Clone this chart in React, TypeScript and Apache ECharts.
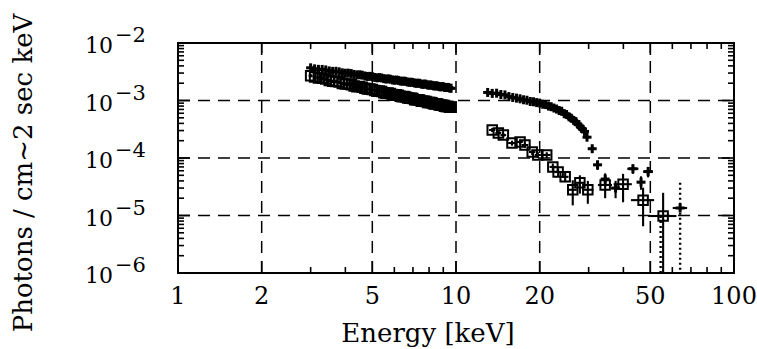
import React, { useEffect, useRef } from 'react';
import * as echarts from 'echarts';

// ---------- axis / tick data ----------
const xTickLabels = [1, 2, 5, 10, 20, 50, 100];
const yTickExponents = [-2, -3, -4, -5, -6];
const xMajorTicks = [2, 5, 10, 20, 50];
const xMinorTicks = [3, 4, 6, 7, 8, 9, 30, 40, 60, 70, 80, 90];
const yMajorTicks = [1e-5, 1e-4, 1e-3];
const yMinorTicks = [
  2e-6, 3e-6, 4e-6, 5e-6, 6e-6, 7e-6, 8e-6, 9e-6,
  2e-5, 3e-5, 4e-5, 5e-5, 6e-5, 7e-5, 8e-5, 9e-5,
  2e-4, 3e-4, 4e-4, 5e-4, 6e-4, 7e-4, 8e-4, 9e-4,
  2e-3, 3e-3, 4e-3, 5e-3, 6e-3, 7e-3, 8e-3, 9e-3,
];
const xGridValues = [2, 5, 10, 20, 50];
const yGridValues = [1e-3, 1e-4, 1e-5];

// ---------- low-energy channels (keV), shared by both spectra ----------
const lowE = [
  3.0, 3.1, 3.2, 3.3, 3.4, 3.5, 3.6, 3.7, 3.8, 3.9,
  4.0, 4.1, 4.2, 4.3, 4.4, 4.5, 4.6, 4.7, 4.8, 4.9,
  5.0, 5.1, 5.2, 5.3, 5.4, 5.5, 5.6, 5.7, 5.8, 5.9,
  6.0, 6.1, 6.2, 6.3, 6.4, 6.5, 6.6, 6.7, 6.8, 6.9,
  7.0, 7.1, 7.2, 7.3, 7.4, 7.5, 7.6, 7.7, 7.8, 7.9,
  8.0, 8.1, 8.2, 8.3, 8.4, 8.5, 8.6, 8.7, 8.8, 8.9,
  9.0, 9.1, 9.2, 9.3, 9.4, 9.5, 9.6,
];
const lowHalfBin = 0.05;

// ---------- crosses (flux in 1e-3 units for dense bands) ----------
const crossLowF = [
  3.70, 3.55, 3.48, 3.47, 3.40, 3.27, 3.21, 3.22, 3.15, 3.03,
  2.98, 2.99, 2.94, 2.84, 2.79, 2.80, 2.76, 2.67, 2.62, 2.63,
  2.60, 2.52, 2.48, 2.50, 2.47, 2.40, 2.36, 2.38, 2.35, 2.28,
  2.25, 2.27, 2.24, 2.18, 2.16, 2.17, 2.15, 2.09, 2.07, 2.08,
  2.06, 2.01, 1.99, 2.00, 1.99, 1.93, 1.91, 1.93, 1.92, 1.86,
  1.85, 1.86, 1.84, 1.80, 1.79, 1.80, 1.78, 1.74, 1.73, 1.74,
  1.74, 1.69, 1.68, 1.69, 1.68, 1.64, 1.63,
];
const crossLowErr = [
  0.36, 0.35, 0.34, 0.34, 0.33, 0.32, 0.31, 0.31, 0.30, 0.29,
  0.29, 0.29, 0.28, 0.27, 0.27, 0.27, 0.26, 0.26, 0.25, 0.25,
  0.25, 0.24, 0.24, 0.24, 0.23, 0.23, 0.22, 0.22, 0.22, 0.22,
  0.21, 0.21, 0.21, 0.21, 0.20, 0.20, 0.20, 0.20, 0.19, 0.19,
  0.19, 0.19, 0.19, 0.19, 0.18, 0.18, 0.18, 0.18, 0.18, 0.18,
  0.17, 0.17, 0.17, 0.17, 0.17, 0.17, 0.16, 0.16, 0.16, 0.16,
  0.16, 0.16, 0.16, 0.16, 0.15, 0.15, 0.15,
];

const crossHighE = [13.0, 13.5, 14.0, 14.5, 15.0, 15.5, 16.0, 16.5, 17.0, 17.5, 18.0, 18.5, 19.0, 19.5, 20.0, 20.5, 21.0, 21.5, 22.0, 22.5, 23.0, 23.5, 24.0, 24.5, 25.0, 25.5, 26.0, 26.5, 27.0, 27.5, 28.0, 28.5, 29.0];
const crossHighF = [1.38, 1.33, 1.34, 1.27, 1.25, 1.17, 1.13, 1.10, 1.07, 1.03, 1.01, 0.96, 0.95, 0.92, 0.90, 0.86, 0.85, 0.80, 0.78, 0.74, 0.71, 0.67, 0.65, 0.59, 0.57, 0.52, 0.49, 0.45, 0.43, 0.38, 0.35, 0.32, 0.29];
const crossHighErr = [0.14, 0.13, 0.13, 0.13, 0.12, 0.12, 0.11, 0.11, 0.11, 0.10, 0.10, 0.10, 0.10, 0.09, 0.09, 0.09, 0.09, 0.08, 0.08, 0.07, 0.07, 0.07, 0.07, 0.06, 0.06, 0.05, 0.05, 0.05, 0.04, 0.04, 0.04, 0.035, 0.03];
const crossHighHalfBin = 0.25;

const crossTailE = [29.6, 30.9, 32.3, 34.4, 37.5, 43.3, 46.3, 49.1, 64.0];
const crossTailF = [2.3e-4, 1.45e-4, 7.6e-5, 4.3e-5, 3.0e-5, 6.5e-5, 3.8e-5, 5.8e-5, 1.35e-5];
const crossTailDE = [0.5, 0.6, 0.8, 1.0, 1.2, 2.0, 1.5, 2.0, 3.8];
const crossTailDF = [2.5e-5, 2.0e-5, 1.4e-5, 1.1e-5, 1.0e-5, 1.2e-5, 1.0e-5, 1.2e-5, 2.35e-5];

// ---------- squares ----------
const squareLowF = [
  2.70, 2.55, 2.47, 2.44, 2.36, 2.22, 2.16, 2.15, 2.09, 1.98,
  1.93, 1.93, 1.88, 1.79, 1.74, 1.75, 1.70, 1.63, 1.58, 1.59,
  1.56, 1.49, 1.45, 1.46, 1.44, 1.37, 1.34, 1.35, 1.33, 1.27,
  1.24, 1.26, 1.23, 1.18, 1.16, 1.17, 1.15, 1.10, 1.09, 1.09,
  1.08, 1.03, 1.03, 1.03, 1.02, 0.97, 0.97, 0.975, 0.96, 0.925,
  0.92, 0.92, 0.91, 0.875, 0.87, 0.875, 0.865, 0.835, 0.83, 0.83,
  0.82, 0.795, 0.79, 0.79, 0.785, 0.76, 0.76,
];
const squareLowErr = [
  0.19, 0.18, 0.17, 0.17, 0.17, 0.16, 0.15, 0.15, 0.15, 0.14,
  0.14, 0.14, 0.13, 0.13, 0.12, 0.12, 0.12, 0.11, 0.11, 0.11,
  0.11, 0.10, 0.10, 0.10, 0.10, 0.10, 0.09, 0.09, 0.09, 0.09,
  0.09, 0.09, 0.09, 0.08, 0.08, 0.08, 0.08, 0.08, 0.08, 0.08,
  0.075, 0.075, 0.075, 0.075, 0.075, 0.075, 0.075, 0.075, 0.075, 0.075,
  0.065, 0.065, 0.065, 0.065, 0.065, 0.065, 0.065, 0.065, 0.065, 0.065,
  0.055, 0.055, 0.055, 0.055, 0.055, 0.055, 0.055,
];

const squareHighE = [13.5, 14.2, 14.8, 15.9, 17.0, 17.7, 18.8, 19.7, 21.2, 22.3, 23.3, 24.7, 26.3, 27.9, 29.8, 34.4, 39.9, 47.1, 55.6];
const squareHighF = [3.07e-4, 2.72e-4, 2.5e-4, 1.82e-4, 1.9e-4, 1.68e-4, 1.27e-4, 1.13e-4, 1.13e-4, 7.0e-5, 5.7e-5, 4.7e-5, 2.8e-5, 3.7e-5, 2.8e-5, 3.4e-5, 3.5e-5, 1.85e-5, 9.8e-6];
const squareHighDE = [0.35, 0.35, 0.35, 0.5, 0.4, 0.5, 0.5, 0.5, 0.7, 0.6, 0.6, 0.7, 0.9, 1.0, 1.4, 2.0, 3.0, 4.5, 6.5];
const squareHighDF = [2.5e-5, 2.3e-5, 2.2e-5, 1.8e-5, 1.8e-5, 1.7e-5, 1.4e-5, 1.3e-5, 1.3e-5, 1.0e-5, 9e-6, 9e-6, 1.3e-5, 1.3e-5, 1.2e-5, 1.4e-5, 1.8e-5, 1.2e-5, 1.5e-5];

const X_MIN = 1, X_MAX = 100, Y_MIN = 1e-6, Y_MAX = 1e-2;
const FONT = '"DejaVu Serif", serif';

function buildData(): { crosses: number[][]; squares: number[][] } {
  const crosses: number[][] = [];
  lowE.forEach((e, i) => crosses.push([e, crossLowF[i] * 1e-3, lowHalfBin, crossLowErr[i] * 1e-3]));
  crossHighE.forEach((e, i) => crosses.push([e, crossHighF[i] * 1e-3, crossHighHalfBin, crossHighErr[i] * 1e-3]));
  crossTailE.forEach((e, i) => crosses.push([e, crossTailF[i], crossTailDE[i], crossTailDF[i]]));
  const squares: number[][] = [];
  lowE.forEach((e, i) => squares.push([e, squareLowF[i] * 1e-3, lowHalfBin, squareLowErr[i] * 1e-3]));
  squareHighE.forEach((e, i) => squares.push([e, squareHighF[i], squareHighDE[i], squareHighDF[i]]));
  return { crosses, squares };
}

function errorRender(kind: 'cross' | 'square') {
  return (_params: any, api: any) => {
    const e = api.value(0), f = api.value(1), de = api.value(2), df = api.value(3);
    const c = api.coord([e, f]);
    const cx = c[0], cy = c[1];
    const xl = api.coord([e - de, f])[0];
    const xr = api.coord([e + de, f])[0];
    const yTop = api.coord([e, f + df])[1];
    const yBot = api.coord([e, Y_MIN])[1];
    const limit = f - df <= Y_MIN;
    const yLow = limit ? yBot : api.coord([e, f - df])[1];
    const solid = { stroke: '#000', lineWidth: 2.1, fill: 'none' };
    const dotted = { stroke: '#000', lineWidth: 2.4, lineDash: [2, 3], fill: 'none' };
    const children: any[] = [
      { type: 'line', shape: { x1: xl, y1: cy, x2: xr, y2: cy }, style: solid },
    ];
    if (!limit) {
      children.push({ type: 'line', shape: { x1: cx, y1: yTop, x2: cx, y2: yLow }, style: solid });
    } else if (kind === 'cross') {
      children.push({ type: 'line', shape: { x1: cx, y1: yTop, x2: cx, y2: yBot }, style: dotted });
    } else {
      children.push({ type: 'line', shape: { x1: cx, y1: yTop, x2: cx, y2: yBot }, style: solid });
      children.push({ type: 'line', shape: { x1: cx - 2.5, y1: cy, x2: cx - 2.5, y2: yBot }, style: dotted });
    }
    if (kind === 'cross') {
      const arm = 4.5;
      children.push({ type: 'line', shape: { x1: cx - arm, y1: cy, x2: cx + arm, y2: cy }, style: { stroke: '#000', lineWidth: 3 } });
      children.push({ type: 'line', shape: { x1: cx, y1: cy - arm, x2: cx, y2: cy + arm }, style: { stroke: '#000', lineWidth: 3 } });
    } else {
      const h = 4.75;
      children.push({ type: 'rect', shape: { x: cx - h, y: cy - h, width: 2 * h, height: 2 * h }, style: { stroke: '#000', lineWidth: 2, fill: 'none' } });
    }
    return { type: 'group', children };
  };
}

export default function App() {
  const ref = useRef<HTMLDivElement>(null);
  useEffect(() => {
    if (!ref.current) return;
    const chart = echarts.init(ref.current, undefined, { renderer: 'svg' });
    const { crosses, squares } = buildData();

    const lineStyle = { stroke: '#000', lineWidth: 1.6 };

    const option: any = {
      animation: false,
      backgroundColor: '#fff',
      grid: {
        left: 178, top: 43, width: 556, height: 230,
        show: true, borderColor: '#000', borderWidth: 2, backgroundColor: 'transparent',
      },
      xAxis: {
        type: 'log', logBase: 10, min: X_MIN, max: X_MAX,
        axisLine: { show: false }, axisTick: { show: false }, axisLabel: { show: false }, splitLine: { show: false },
      },
      yAxis: {
        type: 'log', logBase: 10, min: Y_MIN, max: Y_MAX,
        axisLine: { show: false }, axisTick: { show: false }, axisLabel: { show: false }, splitLine: { show: false },
      },
      graphic: [
        {
          type: 'text', x: 23, y: 173, rotation: Math.PI / 2,
          style: {
            text: 'Photons / cm~2 sec keV', font: `26px ${FONT}`, fill: '#000',
            align: 'center', verticalAlign: 'middle', textAlign: 'center', textVerticalAlign: 'middle',
          },
        },
        {
          type: 'text', x: 428, y: 333,
          style: {
            text: 'Energy [keV]', font: `26px ${FONT}`, fill: '#000',
            align: 'center', verticalAlign: 'middle', textAlign: 'center', textVerticalAlign: 'middle',
          },
        },
      ],
      series: [
        {
          type: 'custom', silent: true, z: 1,
          data: xGridValues.map((v) => [v, Y_MIN]),
          renderItem: (_p: any, api: any) => {
            const x = api.coord([api.value(0), Y_MIN])[0];
            const yb = api.coord([X_MIN, Y_MIN])[1];
            const yt = api.coord([X_MIN, Y_MAX])[1];
            return { type: 'line', shape: { x1: x, y1: yb, x2: x, y2: yt }, style: { stroke: '#000', lineWidth: 1.5, lineDash: [12, 8] } };
          },
        },
        {
          type: 'custom', silent: true, z: 1,
          data: yGridValues.map((v) => [X_MIN, v]),
          renderItem: (_p: any, api: any) => {
            const y = api.coord([X_MIN, api.value(1)])[1];
            const xl = api.coord([X_MIN, Y_MIN])[0];
            const xr = api.coord([X_MAX, Y_MIN])[0];
            return { type: 'line', shape: { x1: xl, y1: y, x2: xr, y2: y }, style: { stroke: '#000', lineWidth: 1.5, lineDash: [12, 8] } };
          },
        },
        {
          type: 'custom', silent: true, z: 3,
          data: [...xMajorTicks.map((v) => [v, Y_MIN, 12]), ...xMinorTicks.map((v) => [v, Y_MIN, 6])],
          renderItem: (_p: any, api: any) => {
            const x = api.coord([api.value(0), Y_MIN])[0];
            const len = api.value(2);
            const yb = api.coord([X_MIN, Y_MIN])[1];
            const yt = api.coord([X_MIN, Y_MAX])[1];
            return {
              type: 'group', children: [
                { type: 'line', shape: { x1: x, y1: yb, x2: x, y2: yb - len }, style: lineStyle },
                { type: 'line', shape: { x1: x, y1: yt, x2: x, y2: yt + len }, style: lineStyle },
              ],
            };
          },
        },
        {
          type: 'custom', silent: true, z: 3,
          data: [...yMajorTicks.map((v) => [X_MIN, v, 12]), ...yMinorTicks.map((v) => [X_MIN, v, 6])],
          renderItem: (_p: any, api: any) => {
            const y = api.coord([X_MIN, api.value(1)])[1];
            const len = api.value(2);
            const xl = api.coord([X_MIN, Y_MIN])[0];
            const xr = api.coord([X_MAX, Y_MIN])[0];
            return {
              type: 'group', children: [
                { type: 'line', shape: { x1: xl, y1: y, x2: xl + len, y2: y }, style: lineStyle },
                { type: 'line', shape: { x1: xr, y1: y, x2: xr - len, y2: y }, style: lineStyle },
              ],
            };
          },
        },
        {
          type: 'custom', silent: true, z: 3,
          data: xTickLabels.map((v) => [v, Y_MIN]),
          renderItem: (_p: any, api: any) => {
            const v = api.value(0);
            const p = api.coord([v, Y_MIN]);
            return {
              type: 'text', x: p[0], y: p[1] + 23,
              style: { text: String(v), font: `24px ${FONT}`, fill: '#000', align: 'center', verticalAlign: 'middle' },
            };
          },
        },
        {
          type: 'custom', silent: true, z: 3,
          data: yTickExponents.map((n) => [X_MIN, Math.pow(10, n), n]),
          renderItem: (_p: any, api: any) => {
            const n = api.value(2);
            const p = api.coord([X_MIN, api.value(1)]);
            return {
              type: 'group', children: [
                { type: 'text', x: p[0] - 93, y: p[1] + 2.5, style: { text: '10', font: `22px ${FONT}`, fill: '#000', align: 'left', verticalAlign: 'middle' } },
                { type: 'text', x: p[0] - 63, y: p[1] - 8, style: { text: '\u2212' + String(Math.abs(n)), font: `21px ${FONT}`, fill: '#000', align: 'left', verticalAlign: 'middle' } },
              ],
            };
          },
        },
        {
          type: 'custom', name: 'crosses', z: 4,
          data: crosses,
          renderItem: errorRender('cross'),
        },
        {
          type: 'custom', name: 'squares', z: 4,
          data: squares,
          renderItem: errorRender('square'),
        },
      ],
    };
    chart.setOption(option);
    return () => chart.dispose();
  }, []);
  return (
    <div
      ref={ref}
      style={{ position: 'fixed', left: 0, top: 0, width: 757, height: 349, background: '#fff' }}
    />
  );
}
